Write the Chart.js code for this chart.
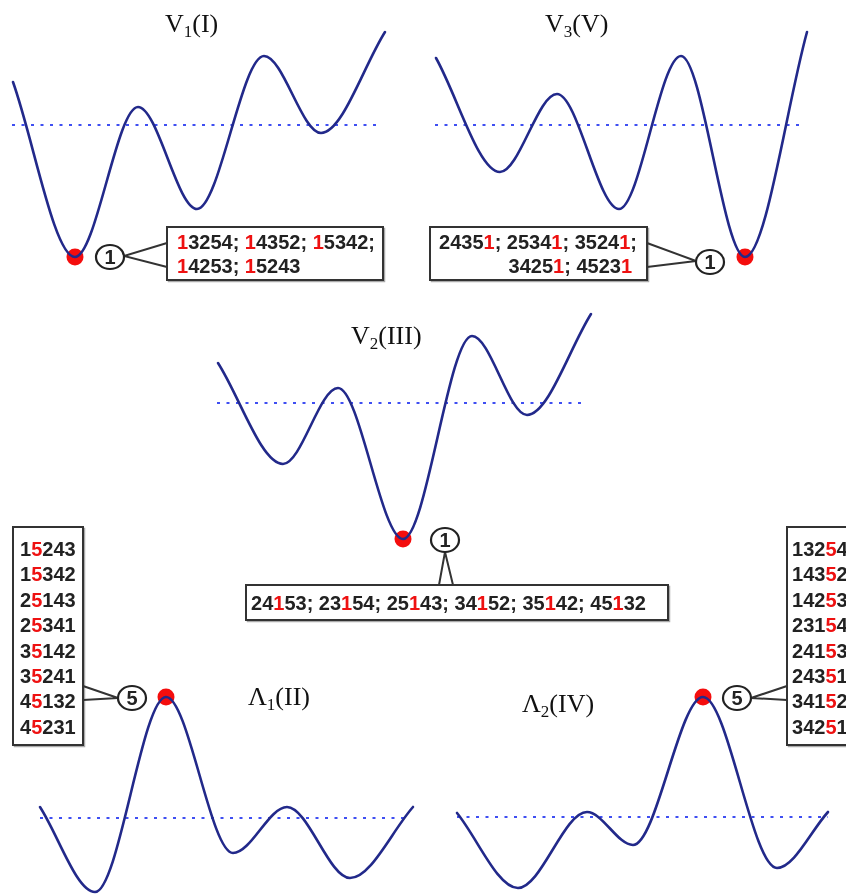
<!DOCTYPE html>
<html>
<head>
<meta charset="utf-8">
<script src="https://cdn.jsdelivr.net/npm/chart.js@4.4.0/dist/chart.umd.min.js"></script>
<style>
html, body { margin: 0; padding: 0; background: #fff; overflow: hidden; }
#wrap { position: relative; width: 846px; height: 894px; overflow: hidden; }
#grafik { position: absolute; left: 0; top: 0; }
#label { position: absolute; left: 0; top: 0; }
</style>
</head>
<body>
<div id="wrap">
  <canvas id="grafik" width="846" height="894"></canvas>
  <svg id="label" width="846" height="894" xmlns="http://www.w3.org/2000/svg"></svg>
</div>
<script>
// --- DATA: reaction coordinate and energy (relative to the dotted level) ---
var v1X = [1, 63, 126, 185, 252, 309, 373];
var v1E = [43, -132, 18, -84, 69, -8, 93];

var v3X = [1, 65, 122, 184, 246, 310, 372];
var v3E = [67, -47, 31, -84, 69, -132, 93];

var v2X = [1, 66, 121, 186, 255, 310, 374];
var v2E = [40, -61, 15, -136, 67, -12, 89];

var l1X = [0, 55, 126, 193, 247, 310, 373];
var l1E = [11, -74, 121, -35, 11, -60, 11];

var l2X = [0, 61, 130, 176, 246, 320, 371];
var l2E = [4, -71, 5, -28, 120, -51, 5];

// permutations at the marked state
var kodeV1 = ['13254', '14352', '15342', '14253', '15243'];
var kodeV3 = ['24351', '25341', '35241', '34251', '45231'];
var kodeV2 = ['24153', '23154', '25143', '34152', '35142', '45132'];
var kodeL1 = ['15243', '15342', '25143', '25341', '35142', '35241', '45132', '45231'];
var kodeL2 = ['13254', '14352', '14253', '23154', '24153', '24351', '34152', '34251'];

// --- PANEL LAYOUT (posisi di halaman) ---
var panel = [
    { id: 'V1', x: v1X, e: v1E, titik: 1, lebarGaris: 366, ox: 12,  by: 125 },
    { id: 'V3', x: v3X, e: v3E, titik: 5, lebarGaris: 367, ox: 435, by: 125 },
    { id: 'V2', x: v2X, e: v2E, titik: 3, lebarGaris: 367, ox: 217, by: 403 },
    { id: 'L1', x: l1X, e: l1E, titik: 2, lebarGaris: 370, ox: 40,  by: 818 },
    { id: 'L2', x: l2X, e: l2E, titik: 4, lebarGaris: 371, ox: 457, by: 817 }
];

var W = 846, H = 894;
var scales = {};
var datasets = [];

panel.forEach(function(p) {
    scales['x' + p.id] = { type: 'linear', display: false, min: -p.ox, max: W - p.ox };
    scales['y' + p.id] = { type: 'linear', display: false, min: p.by - H, max: p.by };

    var titikKurva = p.x.map(function(v, i) { return { x: v, y: p.e[i] }; });

    // kurva energi
    datasets.push({
        data: titikKurva,
        xAxisID: 'x' + p.id, yAxisID: 'y' + p.id,
        showLine: true,
        cubicInterpolationMode: 'monotone',
        borderColor: '#22298a',
        borderWidth: 2.6,
        borderCapStyle: 'round',
        borderJoinStyle: 'round',
        pointRadius: 0,
        fill: false
    });
    // garis level titik-titik
    datasets.push({
        data: [{ x: 0, y: 0 }, { x: p.lebarGaris, y: 0 }],
        xAxisID: 'x' + p.id, yAxisID: 'y' + p.id,
        showLine: true,
        borderColor: '#3f4ff2',
        borderWidth: 2.2,
        borderDash: [3, 6.5],
        pointRadius: 0,
        fill: false
    });
    // titik merah
    datasets.push({
        data: [titikKurva[p.titik]],
        xAxisID: 'x' + p.id, yAxisID: 'y' + p.id,
        showLine: false,
        pointRadius: 8.5,
        pointBackgroundColor: '#f40d0d',
        pointBorderWidth: 0
    });
});

new Chart(document.getElementById('grafik').getContext('2d'), {
    type: 'scatter',
    data: { datasets: datasets },
    options: {
        responsive: false,
        animation: false,
        events: [],
        layout: { padding: 0, autoPadding: false },
        scales: scales,
        plugins: { legend: { display: false }, tooltip: { enabled: false } }
    }
});

// --- LABEL SVG ---
var NS = 'http://www.w3.org/2000/svg';
var svg = document.getElementById('label');

function buat(tag, attr, induk) {
    var e = document.createElementNS(NS, tag);
    for (var k in attr) e.setAttribute(k, attr[k]);
    (induk || svg).appendChild(e);
    return e;
}

function judul(x, y, huruf, sub, sisa) {
    var t = buat('text', { x: x, y: y, 'font-family': '"Liberation Serif", "Times New Roman", serif', 'font-size': 26, fill: '#111' });
    t.appendChild(document.createTextNode(huruf));
    var s = buat('tspan', { 'font-size': 17, dy: 5 }, t);
    s.textContent = sub;
    var r = buat('tspan', { dy: -5 }, t);
    r.textContent = sisa;
}

// satu baris kode, digit ke-idx tiap kode berwarna merah
function baris(x, y, teks, idx, anchor) {
    var t = buat('text', { x: x, y: y, 'font-family': '"Liberation Sans", Arial, sans-serif', 'font-size': 20, 'font-weight': 'bold', fill: '#222', 'text-anchor': anchor || 'start' });
    var pos = 0;
    for (var i = 0; i < teks.length; i++) {
        var c = teks[i];
        var s = buat('tspan', {}, t);
        s.textContent = c;
        if (/[0-9]/.test(c)) {
            if (pos === idx) s.setAttribute('fill', '#ee1111');
            pos++;
        } else {
            pos = 0;
        }
    }
}

function kotak(x, y, w, h) {
    buat('rect', { x: x + 1.5, y: y + 1.5, width: w, height: h, fill: 'none', stroke: '#aaa', 'stroke-width': 1.5 });
    buat('rect', { x: x, y: y, width: w, height: h, fill: '#fff', stroke: '#333', 'stroke-width': 2 });
}

function lingkaran(cx, cy, angka, kiri) {
    buat('polyline', { points: kiri, fill: 'none', stroke: '#333', 'stroke-width': 2 });
    buat('ellipse', { cx: cx, cy: cy, rx: 14, ry: 12, fill: '#fff', stroke: '#222', 'stroke-width': 2.2 });
    buat('text', { x: cx, y: cy + 7, 'text-anchor': 'middle', 'font-family': '"Liberation Sans", Arial, sans-serif', 'font-size': 20, 'font-weight': 'bold', fill: '#222' }).textContent = angka;
}

// judul panel
judul(165, 32, 'V', '1', '(I)');
judul(545, 32, 'V', '3', '(V)');
judul(351, 344, 'V', '2', '(III)');
judul(248, 705, '\u039B', '1', '(II)');
judul(522, 712, '\u039B', '2', '(IV)');

// V1
kotak(167, 227, 216, 53);
baris(177, 249, kodeV1.slice(0, 3).join('; ') + ';', 0);
baris(177, 273, kodeV1.slice(3).join('; '), 0);
lingkaran(110, 257, '1', '167,243 124,256 167,267');

// V3
kotak(430, 227, 217, 53);
baris(439, 249, kodeV3.slice(0, 3).join('; ') + ';', 4);
baris(632, 273, kodeV3.slice(3).join('; '), 4, 'end');
lingkaran(710, 262, '1', '647,243 696,261 647,267');

// V2
kotak(246, 585, 422, 35);
baris(251, 610, kodeV2.join('; '), 2);
lingkaran(445, 540, '1', '439,585 445,552 453,585');

// Lambda 1
kotak(13, 527, 70, 218);
kodeL1.forEach(function(k, i) { baris(20, 556 + i * 25.4, k, 1); });
lingkaran(132, 698, '5', '83,686 118,698 83,700');

// Lambda 2
kotak(787, 527, 80, 218);
kodeL2.forEach(function(k, i) { baris(792, 556 + i * 25.4, k, 3); });
lingkaran(737, 698, '5', '787,686 751,698 787,700');
</script>
</body>
</html>
